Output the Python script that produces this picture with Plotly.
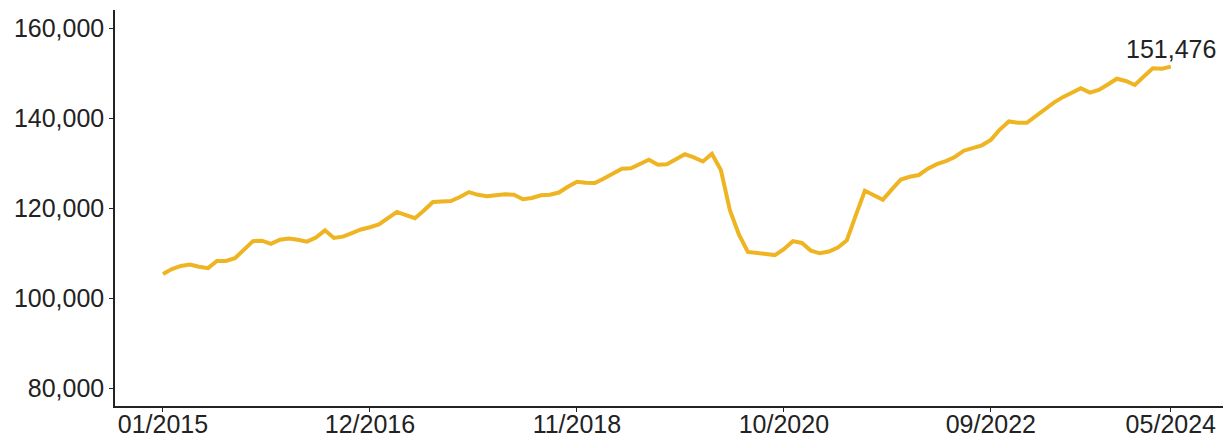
import pandas as pd
import plotly.graph_objects as go

# Monthly categories 01/2015 .. 05/2024
months = [d.strftime("%m/%Y") for d in pd.date_range("2015-01-01", "2024-05-01", freq="MS")]

values = [
    105400, 106500, 107200, 107500, 107000, 106700, 108300, 108300, 108900, 110900,
    112700, 112800, 112100, 113000, 113300, 113000, 112600, 113500, 115100, 113400,
    113700, 114500, 115300, 115800, 116400, 117800, 119200, 118500, 117800, 119500,
    121400, 121500, 121600, 122500, 123600, 123000, 122700, 122900, 123100, 123000,
    122000, 122300, 122900, 123000, 123500, 124800, 125900, 125700, 125600, 126600,
    127700, 128800, 128900, 129800, 130800, 129700, 129800, 130900, 132000, 131300,
    130400, 132100, 128500, 119600, 114200, 110300, 110000, 109800, 109600, 110900,
    112700, 112300, 110600, 110000, 110400, 111300, 112900, 118500, 123900, 122900,
    121900, 124200, 126400, 127000, 127400, 128800, 129800, 130500, 131400, 132800,
    133500, 134000, 135200, 137500, 139300, 139000, 139000, 140500, 142200, 143500,
    144700, 145700, 146700, 145700, 146300, 147500, 148800, 148300, 147400, 149300,
    151100, 151000, 151476,
]

tick_labels = ["01/2015", "12/2016", "11/2018", "10/2020", "09/2022", "05/2024"]
y_ticks = [80000, 100000, 120000, 140000, 160000]

LINE_COLOR = "#EEB422"
TEXT_COLOR = "#222222"
FONT = "Liberation Sans, Arial, sans-serif"
FS = 25

fig = go.Figure()
fig.add_trace(go.Scatter(
    x=months, y=values, mode="lines",
    line=dict(color=LINE_COLOR, width=4),
    hoverinfo="x+y", showlegend=False,
))

fig.add_annotation(
    x=months[-1], y=values[-1], text=f"{values[-1]:,}",
    showarrow=False, yanchor="bottom", xanchor="center", yshift=2,
    font=dict(family=FONT, size=FS, color=TEXT_COLOR),
)

fig.update_layout(
    width=1232, height=441,
    margin=dict(l=107, r=17, t=2, b=43, autoexpand=False),
    paper_bgcolor="white", plot_bgcolor="white",
    font=dict(family=FONT, size=FS, color=TEXT_COLOR),
    xaxis=dict(
        type="category", automargin=False,
        range=[-5.33, 117.8],
        tickmode="array", tickvals=tick_labels, ticktext=tick_labels,
        showgrid=False, zeroline=False,
        showline=True, linecolor="#222222", linewidth=1.5,
        ticks="outside", ticklen=4, tickcolor="#222222",
        ticklabelstandoff=-9,
        tickfont=dict(family=FONT, size=FS, color=TEXT_COLOR),
    ),
    yaxis=dict(
        automargin=False,
        range=[76067, 164067],
        tickmode="array", tickvals=y_ticks,
        tickformat=",d",
        showgrid=False, zeroline=False,
        showline=True, linecolor="#222222", linewidth=1.5,
        ticks="outside", ticklen=4, tickcolor="#222222",
        tickfont=dict(family=FONT, size=FS, color=TEXT_COLOR),
    ),
)

fig.write_html("out.html")
